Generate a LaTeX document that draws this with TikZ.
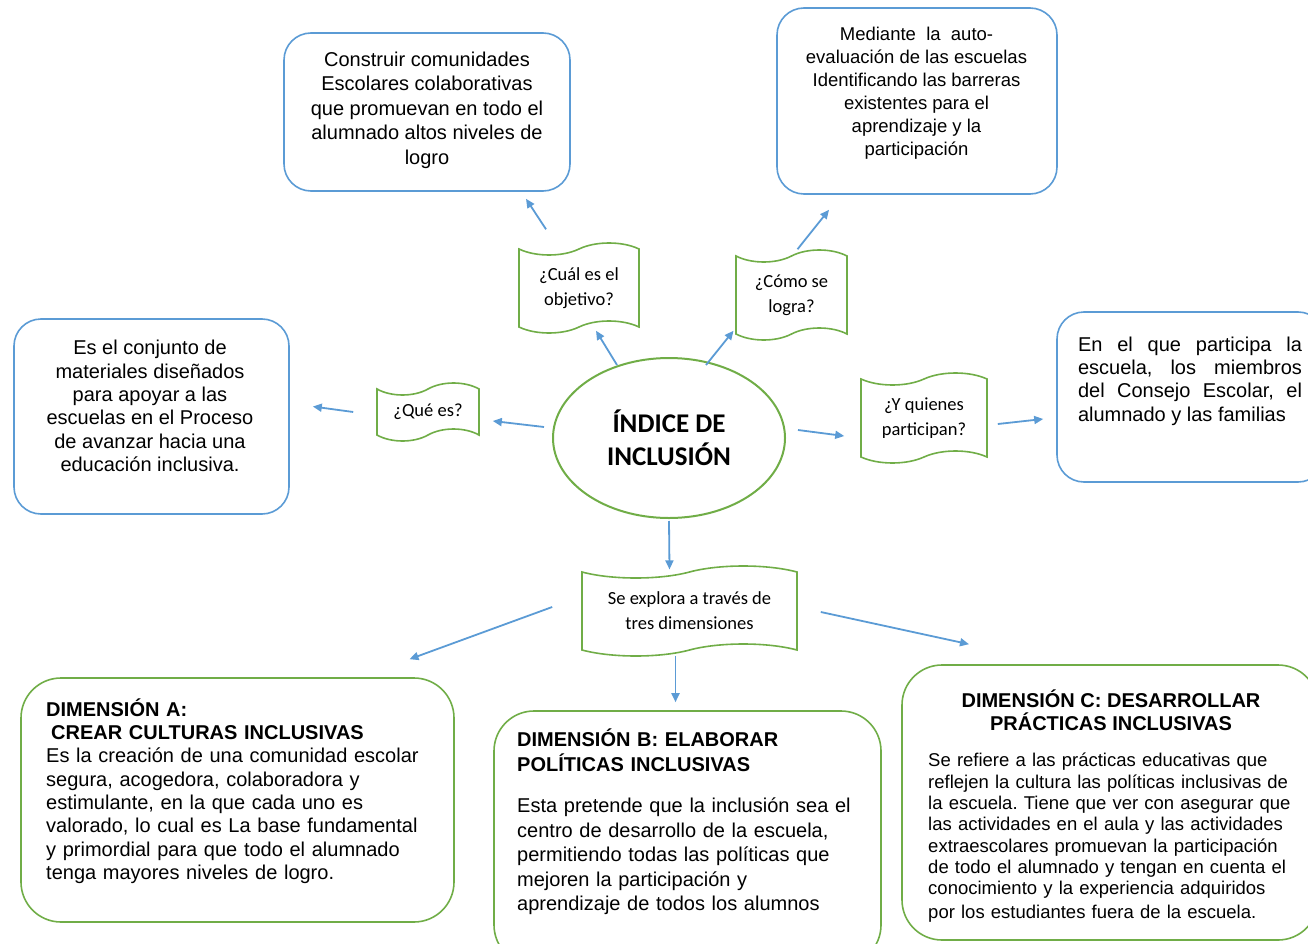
\documentclass[tikz,border=0pt]{standalone}
\usepackage{fontspec}
\setmainfont{Liberation Sans}
\newfontfamily\calibri{Carlito}
\usetikzlibrary{shapes.geometric,shapes.symbols,arrows.meta}
\definecolor{boxblue}{RGB}{91,155,213}
\definecolor{boxgreen}{RGB}{112,173,71}
\hyphenpenalty=10000
\exhyphenpenalty=10000
\frenchspacing
\tikzset{
    bluebox/.style={draw=boxblue, line width=1.6pt, rounded corners=27pt},
    greenbox/.style={draw=boxgreen, line width=1.6pt, rounded corners=40pt},
    wave/.style={tape, draw=boxgreen, line width=1.6pt, tape bend height=12pt,
        inner sep=0pt, align=center, font=\calibri\fontsize{18.5}{25}\selectfont},
    arr/.style={draw=boxblue, line width=1.8pt, -{Triangle[length=9pt,width=8pt]}},
    txt/.style={inner sep=0pt, font=\fontsize{20}{23.3}\selectfont},
}
\begin{document}
\begin{tikzpicture}[x=1pt, y=-1pt]
        \useasboundingbox (0,0) rectangle (1308,944);
        \node[ellipse, draw=boxgreen, line width=2pt, minimum width=232pt, minimum height=160pt,
            align=center, font=\calibri\bfseries\fontsize{27}{33}\selectfont] (INDICE) at (669,438) {
            ÍNDICE DE\\INCLUSIÓN
        };
        \node[wave, minimum width=102pt, minimum height=58pt] (QUE_ES) at (428,412) {¿Qué es?};
        \node[wave, minimum width=120pt, minimum height=90pt] (CUAL) at (579,288) {¿Cuál es el\\objetivo?};
        \node[wave, minimum width=111pt, minimum height=90pt] (COMO) at (791.5,295) {¿Cómo se\\logra?};
        \node[wave, minimum width=126pt, minimum height=90pt] (QUIENES) at (924,418) {¿Y quienes\\participan?};
        \node[wave, minimum width=215pt, minimum height=90pt] (EXPLORA) at (689.5,611) {Se explora a través de\\tres dimensiones};

        \node[bluebox, minimum width=286pt, minimum height=158pt] (BOX_OBJ) at (427,112) {};
        \node[txt, align=center, font=\fontsize{20}{24.5}\selectfont] (TXT_OBJ) at (427,110) {
            Construir comunidades\\Escolares colaborativas\\que promuevan en todo el\\alumnado altos niveles de\\logro
        };
        \node[bluebox, minimum width=280pt, minimum height=186pt] (BOX_COMO) at (917,101) {};
        \node[txt, align=center, font=\fontsize{18.5}{23}\selectfont] (TXT_COMO) at (916.5,93) {
            Mediante\ \ la\ \ auto-\\evaluación de las escuelas\\Identificando las barreras\\existentes para el\\aprendizaje y la\\participación
        };
        \node[bluebox, minimum width=275pt, minimum height=195pt] (BOX_QUE) at (151.5,416.5) {};
        \node[txt, align=center] (TXT_QUE) at (150,406) {
            Es el conjunto de\\materiales diseñados\\para apoyar a las\\escuelas en el Proceso\\de avanzar hacia una\\educación inclusiva.
        };
        \node[bluebox, minimum width=268pt, minimum height=170pt] (BOX_QUIEN) at (1191,397) {};
        \node[txt, align=justify, text width=224pt] (TXT_QUIEN) at (1190,381) {
            En el que participa la escuela, los miembros del Consejo Escolar, el alumnado y las familias
        };

        \node[greenbox, minimum width=433pt, minimum height=244pt] (DIM_A) at (237.5,800) {};
        \node[txt, align=left, text width=400pt, anchor=west] (TXT_A) at (46,791) {
            \textbf{DIMENSIÓN A:}\\
            \hspace*{5pt}\textbf{CREAR CULTURAS INCLUSIVAS}\\
            Es la creación de una comunidad escolar\\
            segura, acogedora, colaboradora y\\
            estimulante, en la que cada uno es\\
            valorado, lo cual es La base fundamental\\
            y primordial para que todo el alumnado\\
            tenga mayores niveles de logro.
        };
        \node[greenbox, minimum width=387pt, minimum height=254pt] (DIM_B) at (687.5,838) {};
        \node[txt, align=left, text width=350pt, anchor=west, font=\fontsize{20}{24.5}\selectfont] (TXT_B) at (517,822) {
            \textbf{DIMENSIÓN B: ELABORAR}\\
            \textbf{POLÍTICAS INCLUSIVAS}\\[17pt]
            Esta pretende que la inclusión sea el\\
            centro de desarrollo de la escuela,\\
            permitiendo todas las políticas que\\
            mejoren la participación y\\
            aprendizaje de todos los alumnos
        };
        \node[greenbox, minimum width=416pt, minimum height=275pt] (DIM_C) at (1110,802.5) {};
        \node[txt, align=center, font=\bfseries\fontsize{20}{23}\selectfont] (TXT_C_HEAD) at (1111,710) {
            DIMENSIÓN C: DESARROLLAR\\PRÁCTICAS INCLUSIVAS
        };
        \node[txt, align=left, text width=370pt, anchor=west, font=\fontsize{18.5}{21.3}\selectfont] (TXT_C) at (928,838) {
            Se refiere a las prácticas educativas que\\
            reflejen la cultura las políticas inclusivas de\\
            la escuela. Tiene que ver con asegurar que\\
            las actividades en el aula y las actividades\\
            extraescolares promuevan la participación\\
            de todo el alumnado y tengan en cuenta el\\
            conocimiento y la experiencia adquiridos\\[3pt]
            por los estudiantes fuera de la escuela.
        };

        \draw[arr] ([xshift=-8pt,yshift=11pt]INDICE.west) -- ([xshift=13pt,yshift=-9pt]QUE_ES.east);
        \draw[arr] ([xshift=-23pt]QUE_ES.west) -- ([xshift=23pt,yshift=10pt]BOX_QUE.east);
        \draw[arr] ([xshift=-52pt,yshift=-8pt]INDICE.north) -- ([xshift=17pt,yshift=-3pt]CUAL.south);
        \draw[arr] ([xshift=-33pt,yshift=19pt]CUAL.north) -- ([xshift=99pt,yshift=-7pt]BOX_OBJ.south);
        \draw[arr] ([xshift=37pt,yshift=-8pt]INDICE.north) -- ([xshift=-58pt,yshift=4pt]COMO.south);
        \draw[arr] ([xshift=6pt,yshift=6pt]COMO.north) -- ([xshift=-88pt,yshift=-15pt]BOX_COMO.south);
        \draw[arr] ([xshift=12pt,yshift=8pt]INDICE.east) -- ([xshift=-16pt,yshift=-18pt]QUIENES.west);
        \draw[arr] ([xshift=10pt,yshift=-6pt]QUIENES.east) -- ([xshift=-13pt,yshift=-22pt]BOX_QUIEN.west);
        \draw[arr] ([yshift=-2pt]INDICE.south) -- ([xshift=-20pt,yshift=2pt]EXPLORA.north);
        \draw[arr] ([xshift=-29pt,yshift=4pt]EXPLORA.west) -- ([xshift=172pt,yshift=18pt]DIM_A.north);
        \draw[arr] ([xshift=-14pt,yshift=-5pt]EXPLORA.south) -- ([xshift=-12pt,yshift=8pt]DIM_B.north);
        \draw[arr] ([xshift=23pt,yshift=-1pt]EXPLORA.east) -- ([xshift=-141pt,yshift=20pt]DIM_C.north);
\end{tikzpicture}
\end{document}
